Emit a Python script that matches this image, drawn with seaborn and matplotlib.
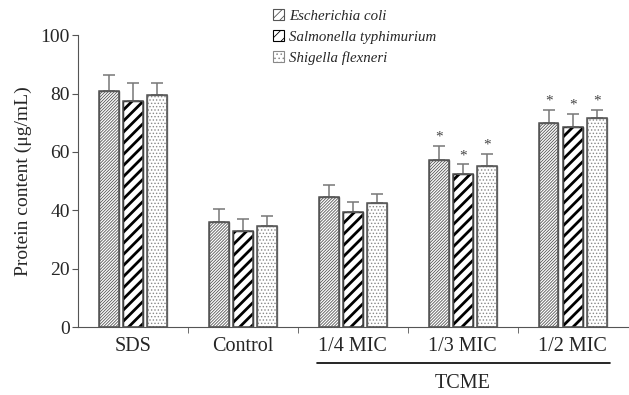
import matplotlib
matplotlib.use("Agg")
import matplotlib.pyplot as plt
import seaborn as sns
import pandas as pd
import numpy as np
from matplotlib.patches import Patch

categories = ["SDS", "Control", "1/4 MIC", "1/3 MIC", "1/2 MIC"]
series = ["Escherichia coli", "Salmonella typhimurium", "Shigella flexneri"]
ecoli = [81.0, 36.0, 44.5, 57.2, 70.0]
salmonella = [77.5, 33.0, 39.5, 52.5, 68.5]
shigella = [79.5, 34.5, 42.5, 55.2, 71.5]
ecoli_err = [5.5, 4.5, 4.0, 4.8, 4.5]
salmonella_err = [6.0, 4.0, 3.5, 3.2, 4.5]
shigella_err = [4.0, 3.5, 3.0, 4.2, 3.0]
significant = [False, False, False, True, True]

sns.set_style("ticks")
plt.rcParams['font.family'] = ['Liberation Serif', 'DejaVu Serif']
plt.rcParams['hatch.linewidth'] = 0.6

rows = []
for s, vals in zip(series, [ecoli, salmonella, shigella]):
    for c, v in zip(categories, vals):
        rows.append({"cat": c, "series": s, "val": v})
df = pd.DataFrame(rows)

fig = plt.figure(figsize=(6.29, 3.95), dpi=100)
ax = fig.add_axes([0.124, 0.172, 0.874, 0.739])

sns.barplot(data=df, x="cat", y="val", hue="series", order=categories,
            hue_order=series, width=0.66, gap=0.18, ax=ax, errorbar=None,
            palette=["white", "white", "white"], edgecolor="#444444",
            linewidth=1.0, legend=False)

hatches = ["///////////", "///", "....."]
hcolors = ["#555555", "#000000", "#888888"]
hlw = [0.6, 2.0, 0.6]
errs = [ecoli_err, salmonella_err, shigella_err]
vals_all = [ecoli, salmonella, shigella]
n = len(categories)
patches = [p for p in ax.patches]
for k in range(3):
    for i in range(n):
        p = patches[k * n + i]
        p.set_hatch(hatches[k])
        p.set_edgecolor(hcolors[k])
        try:
            p.set_hatch_linewidth(hlw[k])
        except Exception:
            pass
        x0 = p.get_x(); w = p.get_width(); h = p.get_height()
        ax.add_patch(plt.Rectangle((x0, 0), w, h, fill=False, edgecolor="#555555", lw=1.1, zorder=3))
        xc = x0 + w / 2
        ax.errorbar(xc, vals_all[k][i], yerr=[[0], [errs[k][i]]], fmt="none",
                    ecolor="#777777", elinewidth=1.1, capsize=4, capthick=1.1, zorder=2)
        if significant[i]:
            ax.text(xc, vals_all[k][i] + errs[k][i] + 0.8, "*", ha="center", va="bottom",
                    fontsize=11, color="#444444")

ax.set_xlim(-0.5, n - 0.5)
ax.set_ylim(0, 100)
ax.set_yticks([0, 20, 40, 60, 80, 100])
ax.set_xlabel("")
ax.set_ylabel("Protein content (μg/mL)", fontsize=14, labelpad=6)
ax.tick_params(axis="y", labelsize=14, direction="out", length=4, color="#555555", pad=2)
ax.set_xticks(range(n))
ax.set_xticklabels(categories, fontsize=14.5)
ax.tick_params(axis="x", length=0, pad=7)
ax.set_xticks(np.arange(0.5, n - 0.5, 1.0), minor=True)
ax.tick_params(axis="x", which="minor", length=4, direction="out", color="#555555")
for sp in ["top", "right"]:
    ax.spines[sp].set_visible(False)
for sp in ["left", "bottom"]:
    ax.spines[sp].set_color("#555555")

# TCME bracket
ax.plot([1.67, 4.34], [-0.123, -0.123], transform=ax.get_xaxis_transform(), color="black",
        lw=1.2, clip_on=False)
ax.text(3.0, -0.16, "TCME", transform=ax.get_xaxis_transform(), ha="center", va="top",
        fontsize=14.5)

# legend
handles = []
for k in range(3):
    ph = Patch(facecolor="white", edgecolor=hcolors[k], hatch=hatches[k][:4], lw=0.8)
    handles.append(ph)
leg = fig.legend(handles, series, loc="upper left", bbox_to_anchor=(0.413, 1.01),
                 frameon=False, prop={"style": "italic", "size": 10.7},
                 handlelength=0.7, handleheight=0.7, handletextpad=0.4, labelspacing=0.5)

fig.savefig("out.png", dpi=100)
